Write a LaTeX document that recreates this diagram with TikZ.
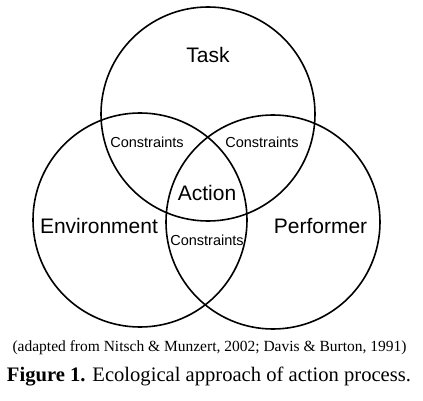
\documentclass[tikz,border=0pt]{standalone}
\usepackage{fontspec}
\setmainfont{Liberation Sans}
\newfontfamily\capfont{Liberation Serif}
\usetikzlibrary{positioning}

\begin{document}
\begin{tikzpicture}[x=1pt,y=-1pt,
   venn/.style={circle,draw,line width=1.6pt,minimum size=214pt,inner sep=0pt},
   big/.style={anchor=base,font=\fontsize{21}{21}\selectfont},
   small/.style={anchor=base,font=\fontsize{14.5}{14.5}\selectfont},
   captext/.style={anchor=base,font=\capfont\fontsize{15.5}{15.5}\selectfont}]
   \useasboundingbox (0,0) rectangle (423,401);
   \node[venn] (task) at (208,114) {};
   \node[venn] (env)  at (140,220) {};
   \node[venn] (perf) at (273,222) {};

   \node[big] (tasklbl) at (208,62.5) {Task};
   \node[big] (envlbl)  at (99,233.5) {Environment};
   \node[big] (perflbl) at (320.5,233.5) {Performer};
   \node[big] (action)  at (207,200) {Action};

   \node[small] (con_te) at (147,147.5) {Constraints};
   \node[small] (con_tp) at (262,147.5) {Constraints};
   \node[small] (con_ep) at (207,245) {Constraints};

   \node[captext] (source) at (209.5,351) {(adapted from Nitsch \& Munzert, 2002; Davis \& Burton, 1991)};
   \node[captext,font=\capfont\fontsize{20.6}{20.6}\selectfont] (caption) at (209,381.5)
      {\textbf{Figure 1.} Ecological approach of action process.};
\end{tikzpicture}
\end{document}
